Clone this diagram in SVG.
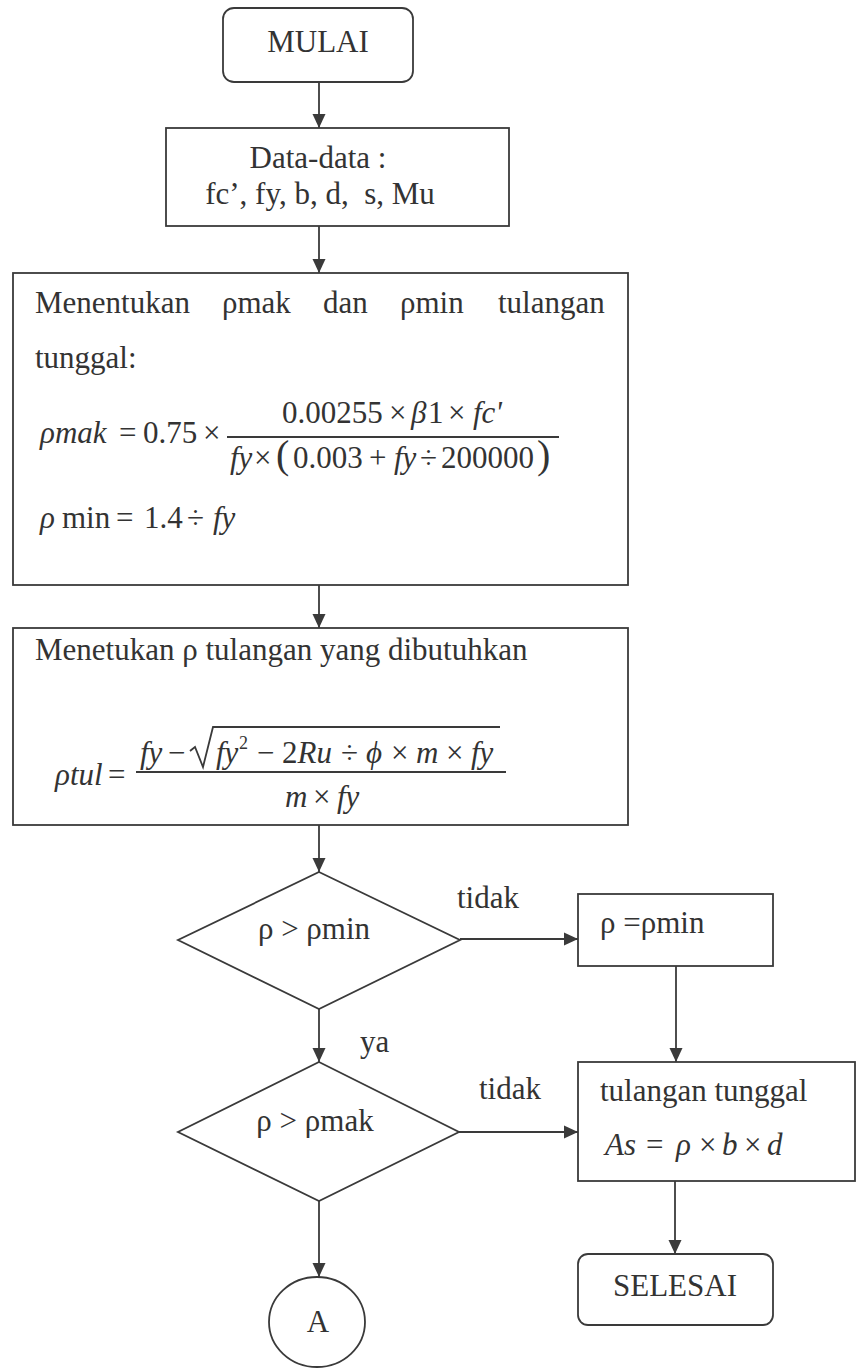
<svg xmlns="http://www.w3.org/2000/svg" width="859" height="1368" viewBox="0 0 859 1368">
  <style>
    .shape { fill: #ffffff; stroke: #3a3a3a; stroke-width: 1.8; }
    .line { fill: none; stroke: #3a3a3a; stroke-width: 1.8; }
    text { font-family: "Liberation Serif", "Times New Roman", serif; font-size: 31px; fill: #333333; }
    .mid { text-anchor: middle; }
    .it { font-style: italic; }
    .sup { font-size: 18px; }
    .paren { font-size: 40px; }
  </style>
  <defs>
    <marker id="arrow" markerUnits="userSpaceOnUse" markerWidth="14" markerHeight="14" viewBox="0 0 14 14" refX="14" refY="7" orient="auto">
      <path d="M0,0.5 L14,7 L0,13.5 Z" fill="#3a3a3a"/>
    </marker>
  </defs>

  <rect width="859" height="1368" fill="#ffffff"/>

  <!-- connectors -->
  <g id="connectors" class="line" marker-end="url(#arrow)">
    <line x1="319" y1="82" x2="319" y2="128"/>
    <line x1="319" y1="226" x2="319" y2="273"/>
    <line x1="319" y1="585" x2="319" y2="628"/>
    <line x1="319" y1="825" x2="319" y2="872"/>
    <line x1="460" y1="939" x2="578" y2="939"/>
    <line x1="676" y1="966" x2="676" y2="1062"/>
    <line x1="319" y1="1009" x2="319" y2="1062"/>
    <line x1="459" y1="1132" x2="578" y2="1132"/>
    <line x1="319" y1="1201" x2="319" y2="1277"/>
    <line x1="675" y1="1181" x2="675" y2="1254"/>
  </g>
  <g id="connector-labels">
    <text x="457" y="908">tidak</text>
    <text x="360" y="1052">ya</text>
    <text x="479" y="1099">tidak</text>
  </g>

  <!-- start -->
  <g id="mulai">
    <rect class="shape" x="223" y="8" width="190" height="74" rx="11"/>
    <text class="mid" x="318" y="52">MULAI</text>
  </g>

  <!-- input data -->
  <g id="data">
    <rect class="shape" x="166" y="128" width="343" height="98"/>
    <text class="mid" x="318" y="168">Data-data :</text>
    <text class="mid" x="320" y="204" xml:space="preserve">fc’, fy, b, d,  s, Mu</text>
  </g>

  <!-- rho max / rho min -->
  <g id="rho-limits">
    <rect class="shape" x="13" y="273" width="615" height="312"/>
    <text y="313"><tspan x="35">Menentukan</tspan><tspan x="222">ρmak</tspan><tspan x="323">dan</tspan><tspan x="400">ρmin</tspan><tspan x="498">tulangan</tspan></text>
    <text x="35" y="368">tunggal:</text>
    <text y="443"><tspan class="it" x="40">ρmak</tspan><tspan x="119">=</tspan><tspan x="143">0.75</tspan><tspan x="203">×</tspan></text>
    <line class="line" x1="227" y1="437" x2="559" y2="437"/>
    <text y="423"><tspan x="282">0.00255</tspan><tspan x="389">×</tspan><tspan class="it" x="411">β</tspan><tspan x="428">1</tspan><tspan x="448">×</tspan><tspan class="it" x="473">fc'</tspan></text>
    <text y="468"><tspan class="it" x="230">fy</tspan><tspan x="254">×</tspan><tspan class="paren" x="276">(</tspan><tspan x="293">0.003</tspan><tspan x="369">+</tspan><tspan class="it" x="394">fy</tspan><tspan x="420">÷</tspan><tspan x="441">200000</tspan><tspan class="paren" x="537">)</tspan></text>
    <text y="528"><tspan class="it" x="40">ρ</tspan><tspan x="62">min</tspan><tspan x="116">=</tspan><tspan x="144">1.4</tspan><tspan x="187">÷</tspan><tspan class="it" x="213">fy</tspan></text>
  </g>

  <!-- required rho -->
  <g id="rho-required">
    <rect class="shape" x="13" y="628" width="615" height="197"/>
    <text x="35" y="660">Menetukan ρ tulangan yang dibutuhkan</text>
    <text y="785"><tspan class="it" x="55">ρtul</tspan><tspan x="108">=</tspan></text>
    <line class="line" x1="136" y1="772" x2="506" y2="772"/>
    <path class="line" d="M190,751 L195,747 L203,767 L213,727 L500,727" stroke-width="1.5"/>
    <text y="763"><tspan class="it" x="140">fy</tspan><tspan x="168">−</tspan><tspan class="it" x="216">fy</tspan><tspan class="sup" x="239" dy="-14">2</tspan><tspan x="257" dy="14">−</tspan><tspan x="282">2</tspan><tspan class="it">Ru</tspan><tspan x="341">÷</tspan><tspan class="it" x="366">ϕ</tspan><tspan x="391">×</tspan><tspan class="it" x="416">m</tspan><tspan x="446">×</tspan><tspan class="it" x="471">fy</tspan></text>
    <text y="807"><tspan class="it" x="285">m</tspan><tspan x="313">×</tspan><tspan class="it" x="337">fy</tspan></text>
  </g>

  <!-- decision rho > rho min -->
  <g id="check-min">
    <polygon class="shape" points="319,872 460,940 319,1009 178,940"/>
    <text class="mid" x="314" y="939">ρ &gt; ρmin</text>
  </g>

  <!-- rho = rho min -->
  <g id="set-min">
    <rect class="shape" x="578" y="894" width="195" height="72"/>
    <text x="600" y="933">ρ =ρmin</text>
  </g>

  <!-- decision rho > rho max -->
  <g id="check-max">
    <polygon class="shape" points="319,1062 459,1132 319,1201 178,1132"/>
    <text class="mid" x="315" y="1131">ρ &gt; ρmak</text>
  </g>

  <!-- single reinforcement -->
  <g id="single">
    <rect class="shape" x="578" y="1062" width="277" height="119"/>
    <text x="600" y="1101">tulangan tunggal</text>
    <text y="1155"><tspan class="it" x="605">As</tspan><tspan x="646">=</tspan><tspan class="it" x="676">ρ</tspan><tspan x="699">×</tspan><tspan class="it" x="722">b</tspan><tspan x="744">×</tspan><tspan class="it" x="767">d</tspan></text>
  </g>

  <!-- end -->
  <g id="selesai">
    <rect class="shape" x="578" y="1254" width="195" height="71" rx="10"/>
    <text class="mid" x="675" y="1296">SELESAI</text>
  </g>

  <!-- connector A -->
  <g id="connector-a">
    <ellipse class="shape" cx="317" cy="1322" rx="48" ry="45"/>
    <text class="mid" x="318" y="1332">A</text>
  </g>
</svg>
